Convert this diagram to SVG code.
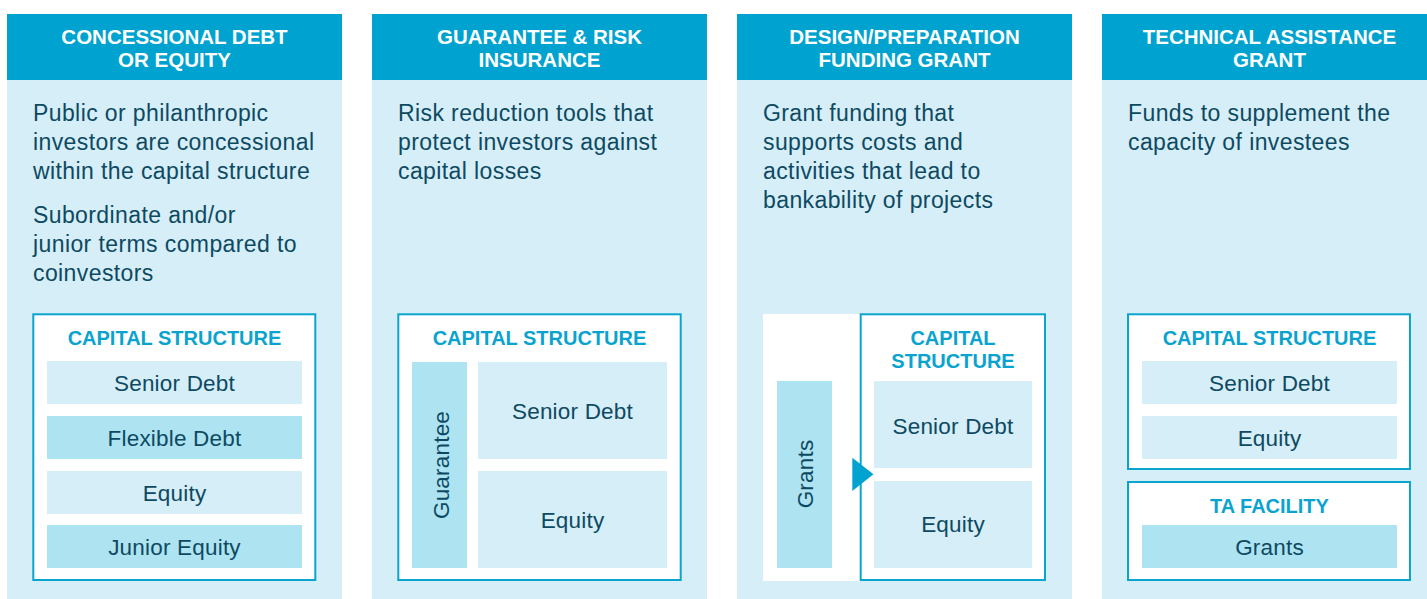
<svg xmlns="http://www.w3.org/2000/svg" width="1427" height="599" viewBox="0 0 1427 599">
<style>
.hdr{fill:#00a3cf}
.pnl{fill:#d6eef8}
.box{fill:#ffffff;stroke:#0aa5cf;stroke-width:2}
.lt{fill:#d6eef8}
.dk{fill:#aee3f1}
.ht{font-family:"Liberation Sans",Arial,sans-serif;font-weight:bold;font-size:20.5px;fill:#ffffff;text-anchor:middle}
.bt{font-family:"Liberation Sans",Arial,sans-serif;font-size:23px;letter-spacing:0.4px;fill:#0d4a62}
.rt{font-family:"Liberation Sans",Arial,sans-serif;font-size:22.5px;letter-spacing:0.2px;fill:#0d4a62;text-anchor:middle}
.tt{font-family:"Liberation Sans",Arial,sans-serif;font-weight:bold;font-size:20px;fill:#0aa3cf;text-anchor:middle}
.arrow{fill:#00a3cf}
</style>

<g id="col1">
<rect class="pnl" x="7" y="80" width="335" height="519"/>
<rect class="hdr" x="7" y="14" width="335" height="66"/>
<text class="ht" x="174.5" y="44">CONCESSIONAL DEBT</text>
<text class="ht" x="174.5" y="67">OR EQUITY</text>
<text class="bt" x="33" y="121">Public or philanthropic</text>
<text class="bt" x="33" y="150">investors are concessional</text>
<text class="bt" x="33" y="179">within the capital structure</text>
<text class="bt" x="33" y="223">Subordinate and/or</text>
<text class="bt" x="33" y="252">junior terms compared to</text>
<text class="bt" x="33" y="281">coinvestors</text>
<g id="cs1">
<rect class="box" x="33.3" y="314.3" width="282" height="265.7"/>
<text class="tt" x="174.5" y="345">CAPITAL STRUCTURE</text>
<rect class="lt" x="47" y="361" width="255" height="43"/>
<text class="rt" x="174.5" y="390.5">Senior Debt</text>
<rect class="dk" x="47" y="416" width="255" height="43"/>
<text class="rt" x="174.5" y="445.5">Flexible Debt</text>
<rect class="lt" x="47" y="471" width="255" height="43"/>
<text class="rt" x="174.5" y="500.5">Equity</text>
<rect class="dk" x="47" y="525" width="255" height="43"/>
<text class="rt" x="174.5" y="554.5">Junior Equity</text>
</g>
</g>

<g id="col2">
<rect class="pnl" x="372" y="80" width="335" height="519"/>
<rect class="hdr" x="372" y="14" width="335" height="66"/>
<text class="ht" x="539.5" y="44">GUARANTEE &amp; RISK</text>
<text class="ht" x="539.5" y="67">INSURANCE</text>
<text class="bt" x="398" y="121">Risk reduction tools that</text>
<text class="bt" x="398" y="150">protect investors against</text>
<text class="bt" x="398" y="179">capital losses</text>
<g id="cs2">
<rect class="box" x="398.3" y="314.3" width="282.4" height="265.7"/>
<text class="tt" x="539.5" y="345">CAPITAL STRUCTURE</text>
<rect class="dk" x="412" y="362" width="55" height="206"/>
<text class="rt" transform="translate(441,465) rotate(-90)" x="0" y="8">Guarantee</text>
<rect class="lt" x="478" y="362" width="189" height="97"/>
<text class="rt" x="572.5" y="419">Senior Debt</text>
<rect class="lt" x="478" y="471" width="189" height="97"/>
<text class="rt" x="572.5" y="527.5">Equity</text>
</g>
</g>

<g id="col3">
<rect class="pnl" x="737" y="80" width="335" height="519"/>
<rect class="hdr" x="737" y="14" width="335" height="66"/>
<text class="ht" x="904.5" y="44">DESIGN/PREPARATION</text>
<text class="ht" x="904.5" y="67">FUNDING GRANT</text>
<text class="bt" x="763" y="121">Grant funding that</text>
<text class="bt" x="763" y="150">supports costs and</text>
<text class="bt" x="763" y="179">activities that lead to</text>
<text class="bt" x="763" y="208">bankability of projects</text>
<rect x="763" y="314" width="98" height="267" fill="#ffffff"/>
<g id="grants3">
<rect class="dk" x="777" y="381" width="55" height="187"/>
<text class="rt" transform="translate(805,474) rotate(-90)" x="0" y="8">Grants</text>
</g>
<g id="cs3">
<rect class="box" x="860.7" y="314.3" width="184.3" height="265.7"/>
<text class="tt" x="953" y="345">CAPITAL</text>
<text class="tt" x="953" y="368">STRUCTURE</text>
<rect class="lt" x="874" y="381" width="158" height="87"/>
<text class="rt" x="953" y="433.5">Senior Debt</text>
<rect class="lt" x="874" y="481" width="158" height="87"/>
<text class="rt" x="953" y="531.5">Equity</text>
</g>
</g>

<g id="connectors">
<path class="arrow" d="M852.3,457.7 L873.5,474.3 L852.3,491 z"/>
</g>

<g id="col4">
<rect class="pnl" x="1102" y="80" width="335" height="519"/>
<rect class="hdr" x="1102" y="14" width="335" height="66"/>
<text class="ht" x="1269.5" y="44">TECHNICAL ASSISTANCE</text>
<text class="ht" x="1269.5" y="67">GRANT</text>
<text class="bt" x="1128" y="121">Funds to supplement the</text>
<text class="bt" x="1128" y="150">capacity of investees</text>
<g id="cs4">
<rect class="box" x="1128" y="314.3" width="282" height="154.7"/>
<text class="tt" x="1269.5" y="345">CAPITAL STRUCTURE</text>
<rect class="lt" x="1142" y="361" width="255" height="43"/>
<text class="rt" x="1269.5" y="390.5">Senior Debt</text>
<rect class="lt" x="1142" y="416" width="255" height="43"/>
<text class="rt" x="1269.5" y="445.5">Equity</text>
</g>
<g id="ta4">
<rect class="box" x="1128" y="482" width="282" height="98"/>
<text class="tt" x="1269.5" y="513">TA FACILITY</text>
<rect class="dk" x="1142" y="525" width="255" height="43"/>
<text class="rt" x="1269.5" y="554.5">Grants</text>
</g>
</g>
</svg>
